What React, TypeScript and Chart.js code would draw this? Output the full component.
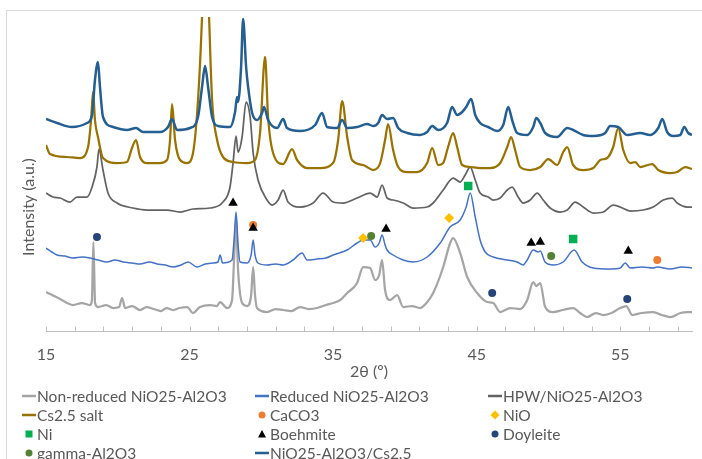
import React, { useEffect, useRef } from "react";
import { Chart, registerables } from "chart.js";

Chart.register(...registerables);

// ---- tick values / labels ----
const xTickValues = [15, 17, 19, 21, 23, 25, 27, 29, 31, 33, 35, 37, 39, 41, 43, 45, 47, 49, 51, 53, 55, 57, 59];
const xLabelValues = [15, 25, 35, 45, 55];
const xTitle = "2θ (º)";
const yTitle = "Intensity (a.u.)";

// ---- series: [2θ, intensity (a.u.)] ----
const nonReduced = [
  [15.0, 39], [15.98, 32], [16.88, 26], [17.5, 28], [18.07, 26], [18.2, 31], [18.3, 89], [18.42, 28],
  [18.62, 24], [19.2, 26], [19.67, 23], [20.09, 24], [20.3, 33], [20.51, 23], [21.0, 25], [21.55, 21],
  [22.0, 24], [22.5, 22], [23.0, 20], [23.4, 23], [23.85, 21], [24.3, 23], [24.83, 24], [25.24, 18],
  [25.73, 24], [26.43, 26], [26.9, 25], [27.13, 29], [27.61, 23], [27.96, 31], [28.1, 71], [28.24, 111],
  [28.38, 61], [28.66, 28], [29.01, 25], [29.29, 36], [29.43, 64], [29.56, 36], [29.7, 23], [30.4, 19],
  [31.0, 22], [31.52, 21], [32.1, 20], [32.7, 24], [33.3, 22], [33.89, 23], [34.5, 26], [35.0, 28],
  [35.5, 31], [35.98, 38], [36.67, 48], [37.09, 64], [37.58, 63], [37.93, 51], [38.21, 56], [38.41, 71],
  [38.62, 41], [38.97, 31], [39.46, 36], [39.88, 24], [40.5, 25], [41.06, 23], [41.5, 28], [41.97, 38],
  [42.67, 64], [43.15, 88], [43.36, 93], [43.85, 78], [44.34, 54], [45.03, 38], [45.73, 29], [46.15, 28],
  [46.64, 19], [47.33, 23], [48.03, 22], [48.52, 31], [48.94, 49], [49.15, 45], [49.43, 48], [49.77, 24],
  [50.33, 19], [51.0, 21], [51.72, 23], [52.2, 18], [52.7, 14], [53.3, 18], [53.82, 16], [54.4, 18],
  [55.0, 23], [55.42, 25], [55.84, 16], [56.5, 18], [57.3, 19], [57.9, 16], [58.49, 14], [59.2, 18], [60.0, 19],
];

const reduced = [
  [15.0, 83], [15.4, 79], [15.77, 76], [16.3, 75], [16.88, 73], [17.5, 74], [18.07, 73], [18.62, 71],
  [19.25, 69], [19.8, 71], [20.37, 69], [21.0, 68], [21.55, 67], [22.2, 69], [22.74, 67], [23.3, 66],
  [23.85, 64], [24.4, 66], [24.9, 69], [25.52, 64], [26.1, 67], [26.64, 68], [26.98, 69], [27.13, 76],
  [27.3, 68], [27.96, 71], [28.1, 91], [28.24, 119], [28.38, 86], [28.52, 69], [29.01, 68], [29.29, 76],
  [29.43, 91], [29.56, 76], [29.77, 68], [30.4, 66], [31.0, 67], [31.52, 66], [32.21, 71], [32.84, 78],
  [33.19, 71], [33.89, 72], [34.5, 73], [35.0, 76], [35.98, 81], [36.67, 88], [37.09, 91], [37.58, 91],
  [37.93, 84], [38.21, 88], [38.41, 96], [38.62, 86], [38.76, 81], [39.18, 76], [39.88, 71], [40.57, 69],
  [41.55, 74], [42.46, 88], [43.15, 104], [43.85, 111], [44.27, 124], [44.55, 138], [44.9, 114], [45.24, 91],
  [45.59, 79], [46.15, 74], [47.13, 71], [47.82, 69], [48.24, 66], [48.52, 71], [48.94, 81], [49.29, 79],
  [49.43, 80], [49.77, 69], [50.33, 66], [51.03, 69], [51.79, 81], [52.35, 69], [53.12, 63], [54.3, 62],
  [55.0, 63], [55.35, 68], [55.7, 63], [56.5, 64], [57.3, 63], [57.58, 64], [58.49, 62], [59.3, 64], [60.0, 63],
];

const hpw = [
  [15.0, 138], [15.49, 134], [15.98, 133], [16.67, 129], [17.16, 134], [17.86, 134], [18.21, 144], [18.55, 164],
  [18.69, 182], [18.97, 161], [19.32, 138], [19.95, 128], [21.06, 123], [22.04, 121], [23.43, 121], [24.34, 119],
  [25.24, 122], [26.43, 123], [27.33, 129], [27.82, 144], [28.03, 168], [28.24, 195], [28.38, 179], [28.66, 194],
  [28.94, 229], [29.22, 214], [29.43, 178], [29.77, 151], [30.4, 131], [30.75, 126], [31.17, 131], [31.52, 141],
  [31.86, 129], [32.7, 124], [33.61, 128], [34.3, 138], [35.0, 129], [35.7, 128], [36.67, 133], [37.58, 138],
  [38.07, 134], [38.41, 146], [38.76, 133], [39.18, 131], [39.88, 128], [40.57, 123], [41.55, 124], [41.97, 128],
  [42.67, 141], [43.36, 153], [43.85, 149], [44.2, 156], [44.55, 164], [44.9, 151], [45.24, 138], [45.8, 134],
  [46.15, 131], [46.64, 133], [47.13, 141], [47.47, 144], [47.89, 134], [48.24, 128], [48.73, 131], [49.22, 138],
  [49.63, 131], [50.12, 123], [50.82, 119], [51.31, 121], [51.86, 129], [52.42, 124], [53.12, 118], [53.82, 119],
  [54.51, 126], [55.0, 124], [55.7, 120], [56.6, 121], [57.3, 124], [58.0, 131], [58.62, 133], [58.97, 128],
  [59.67, 124], [60.0, 124],
];

const cs25Salt = [
  [15.0, 186], [15.28, 177], [16.46, 174], [17.37, 173], [17.93, 184], [18.14, 211], [18.28, 239], [18.41, 211],
  [18.62, 194], [18.97, 173], [19.95, 168], [20.64, 169], [20.99, 183], [21.27, 191], [21.55, 174], [22.04, 168],
  [22.94, 168], [23.43, 171], [23.64, 191], [23.78, 227], [23.99, 191], [24.34, 171], [24.83, 168], [25.24, 178],
  [25.59, 231], [25.87, 314], [26.11, 420], [26.36, 314], [26.57, 231], [26.92, 191], [27.33, 174], [28.03, 169],
  [29.01, 168], [29.56, 171], [29.91, 198], [30.26, 274], [30.47, 214], [30.82, 178], [31.52, 167], [32.14, 182],
  [32.49, 171], [33.19, 163], [34.09, 163], [35.0, 168], [35.35, 191], [35.63, 230], [35.98, 194], [36.32, 171],
  [37.09, 166], [37.79, 161], [38.28, 168], [38.62, 191], [38.83, 207], [39.18, 181], [39.53, 164], [40.16, 159],
  [40.85, 159], [41.55, 168], [41.9, 183], [42.32, 166], [42.67, 168], [43.01, 184], [43.36, 198], [43.64, 184],
  [43.99, 166], [44.55, 164], [45.24, 163], [45.94, 163], [46.64, 168], [47.13, 184], [47.4, 194], [47.68, 181],
  [48.03, 164], [48.73, 161], [49.43, 164], [49.98, 172], [50.61, 166], [51.03, 179], [51.31, 184], [51.72, 166],
  [52.42, 161], [53.12, 163], [53.61, 171], [54.09, 173], [54.51, 184], [54.86, 203], [55.21, 181], [55.7, 168],
  [56.05, 169], [56.39, 164], [57.23, 167], [57.65, 161], [58.49, 158], [58.97, 159], [59.53, 164], [60.0, 162],
];

const niAlCs = [
  [15.0, 212], [15.77, 208], [16.81, 204], [17.86, 208], [18.21, 216], [18.41, 251], [18.62, 269], [18.76, 244],
  [18.97, 214], [19.67, 204], [20.64, 201], [21.27, 203], [21.76, 199], [22.94, 199], [23.5, 204], [23.78, 212],
  [24.13, 201], [25.03, 203], [25.59, 214], [25.87, 244], [26.08, 265], [26.29, 244], [26.57, 214], [26.99, 205],
  [27.82, 204], [28.17, 219], [28.31, 234], [28.38, 229], [28.59, 264], [28.73, 312], [28.94, 264], [29.08, 244],
  [29.36, 218], [29.7, 211], [30.05, 218], [30.19, 224], [30.47, 211], [31.1, 203], [31.52, 212], [31.79, 203],
  [32.7, 200], [33.75, 206], [34.23, 218], [34.58, 204], [35.28, 203], [35.63, 211], [35.98, 203], [36.67, 204],
  [37.37, 207], [37.79, 205], [38.14, 208], [38.41, 216], [38.76, 212], [39.18, 213], [39.53, 203], [40.16, 198],
  [41.06, 196], [41.55, 199], [41.9, 205], [42.32, 201], [42.94, 208], [43.29, 224], [43.64, 216], [43.99, 219],
  [44.27, 224], [44.62, 232], [44.9, 216], [45.24, 208], [45.8, 204], [46.43, 200], [46.85, 206], [47.2, 224],
  [47.47, 211], [47.82, 198], [48.52, 196], [48.94, 204], [49.15, 213], [49.43, 208], [49.77, 198], [50.61, 194],
  [51.31, 203], [51.72, 201], [52.42, 196], [53.12, 195], [53.95, 198], [54.3, 205], [54.86, 204], [55.49, 196],
  [56.39, 198], [57.09, 196], [57.65, 203], [57.93, 212], [58.27, 199], [58.69, 195], [59.18, 196], [59.46, 204],
  [59.74, 198], [60.0, 196],
];

// ---- phase markers: [2θ, marker height] ----
const caco3 = [[29.43, 106], [57.58, 71]];
const nio = [[37.09, 93], [43.08, 113]];
const ni = [[44.41, 145], [51.72, 92]];
const boehmite = [[28.03, 128], [29.43, 103], [38.69, 102], [48.8, 88], [49.43, 89], [55.56, 80]];
const doyleite = [[18.55, 94], [46.08, 38], [55.49, 32]];
const gammaAl2O3 = [[37.65, 95], [50.19, 75]];

const FONT_FAMILY = "Lato, 'Open Sans', sans-serif";
const TEXT_COLOR = "#595959";
const AXIS_COLOR = "#bfbfbf";

const toXY = (arr: number[][]) => arr.map(([x, y]) => ({ x, y }));

function lineSet(label: string, data: number[][], color: string, width: number) {
  return {
    type: "line" as const,
    label,
    data: toXY(data),
    borderColor: color,
    backgroundColor: color,
    borderWidth: width,
    pointRadius: 0,
    cubicInterpolationMode: "monotone" as const,
    showLine: true,
    fill: false,
  };
}

function markerSet(label: string, data: number[][], color: string, style: string, radius: number) {
  return {
    type: "scatter" as const,
    label,
    data: toXY(data),
    borderColor: color,
    backgroundColor: color,
    borderWidth: 0,
    pointStyle: style,
    pointRadius: radius,
    pointHoverRadius: radius,
    showLine: false,
  };
}

const framePlugin = {
  id: "frame",
  beforeDraw(chart: any) {
    const ctx = chart.ctx;
    ctx.save();
    ctx.fillStyle = "#ffffff";
    ctx.fillRect(0, 0, chart.width, chart.height);
    ctx.strokeStyle = "#d9d9d9";
    ctx.lineWidth = 1;
    ctx.strokeRect(6.5, 10.5, 1000, 1000);
    ctx.restore();
  },
};

const axisPlugin = {
  id: "axisLine",
  afterDatasetsDraw(chart: any) {
    const { ctx, chartArea } = chart;
    const xScale = chart.scales.x;
    ctx.save();
    ctx.strokeStyle = AXIS_COLOR;
    ctx.lineWidth = 1;
    const y = Math.round(chartArea.bottom) + 0.5;
    ctx.beginPath();
    ctx.moveTo(chartArea.left, y);
    ctx.lineTo(chartArea.right + 1, y);
    xScale.ticks.forEach((t: any) => {
      const px = Math.round(xScale.getPixelForValue(t.value)) + 0.5;
      ctx.moveTo(px, y);
      ctx.lineTo(px, y - 5);
    });
    ctx.stroke();
    ctx.restore();
  },
};

const titlesPlugin = {
  id: "axisTitles",
  afterDraw(chart: any) {
    const ctx = chart.ctx;
    const area = chart.chartArea;
    ctx.save();
    ctx.fillStyle = TEXT_COLOR;
    ctx.font = `16px ${FONT_FAMILY}`;
    ctx.textAlign = "center";
    ctx.textBaseline = "middle";
    ctx.fillText(xTitle, (area.left + area.right) / 2, 372);
    ctx.translate(29, 207);
    ctx.rotate(-Math.PI / 2);
    ctx.fillText(yTitle, 0, 0);
    ctx.restore();
  },
};

function drawMarker(ctx: CanvasRenderingContext2D, style: string, x: number, y: number, r: number) {
  ctx.beginPath();
  if (style === "circle") {
    ctx.arc(x, y, r, 0, Math.PI * 2);
  } else if (style === "rect") {
    ctx.rect(x - r, y - r, 2 * r, 2 * r);
  } else if (style === "rectRot") {
    ctx.moveTo(x, y - r - 1);
    ctx.lineTo(x + r + 1, y);
    ctx.lineTo(x, y + r + 1);
    ctx.lineTo(x - r - 1, y);
    ctx.closePath();
  } else if (style === "triangle") {
    ctx.moveTo(x, y - r - 0.5);
    ctx.lineTo(x + r + 0.5, y + r);
    ctx.lineTo(x - r - 0.5, y + r);
    ctx.closePath();
  }
  ctx.fill();
}

const legendPlugin = {
  id: "gridLegend",
  afterDraw(chart: any) {
    const ctx = chart.ctx;
    ctx.save();
    ctx.font = `15.5px ${FONT_FAMILY}`;
    ctx.textBaseline = "middle";
    ctx.textAlign = "left";
    chart.data.datasets.forEach((ds: any, i: number) => {
      const col = i % 3;
      const row = Math.floor(i / 3);
      const x0 = 22 + col * 233;
      const y = 396 + row * 19;
      if (ds.type === "line") {
        ctx.strokeStyle = ds.borderColor;
        ctx.lineWidth = 2.5;
        ctx.beginPath();
        ctx.moveTo(x0, y);
        ctx.lineTo(x0 + 14, y);
        ctx.stroke();
      } else {
        ctx.fillStyle = ds.backgroundColor;
        drawMarker(ctx, ds.pointStyle, x0 + 7, y, 3.5);
      }
      ctx.fillStyle = TEXT_COLOR;
      ctx.fillText(ds.label, x0 + 15, y + 1);
    });
    ctx.restore();
  },
};

export default function App() {
  const canvasRef = useRef<HTMLCanvasElement | null>(null);

  useEffect(() => {
    if (!canvasRef.current) return;
    const datasets: any[] = [
      lineSet("Non-reduced NiO25-Al2O3", nonReduced, "#a5a5a5", 2.25),
      lineSet("Reduced NiO25-Al2O3", reduced, "#4472c4", 1.5),
      lineSet("HPW/NiO25-Al2O3", hpw, "#636363", 1.75),
      lineSet("Cs2.5 salt", cs25Salt, "#997300", 2.25),
      markerSet("CaCO3", caco3, "#ed7d31", "circle", 4),
      markerSet("NiO", nio, "#ffc000", "rectRot", 5),
      markerSet("Ni", ni, "#00b050", "rect", 6),
      markerSet("Boehmite", boehmite, "#000000", "triangle", 5.5),
      markerSet("Doyleite", doyleite, "#264478", "circle", 4),
      markerSet("gamma-Al2O3", gammaAl2O3, "#548235", "circle", 4),
      lineSet("NiO25-Al2O3/Cs2.5", niAlCs, "#255e91", 2.5),
    ];
    const n = datasets.length;
    datasets.forEach((d, i) => (d.order = n - i));

    const chart = new Chart(canvasRef.current, {
      type: "scatter",
      data: { datasets },
      options: {
        responsive: false,
        animation: false,
        devicePixelRatio: 1,
        events: [],
        layout: { padding: { left: 46, right: 10, top: 17, bottom: 0 } },
        plugins: {
          legend: { display: false },
          tooltip: { enabled: false },
          title: { display: false },
        },
        scales: {
          x: {
            type: "linear",
            min: 15,
            max: 60,
            afterBuildTicks: (scale: any) => {
              scale.ticks = xTickValues.map((v) => ({ value: v }));
            },
            afterFit: (scale: any) => {
              scale.height = 128;
            },
            ticks: {
              autoSkip: false,
              maxRotation: 0,
              padding: 14,
              color: TEXT_COLOR,
              font: { family: FONT_FAMILY, size: 16 },
              callback: (value: any) => (xLabelValues.includes(Number(value)) ? String(value) : ""),
            },
            grid: { display: false, drawTicks: false },
            border: { display: false },
          },
          y: {
            type: "linear",
            display: false,
            min: 0,
            max: 314,
          },
        },
      } as any,
      plugins: [framePlugin, axisPlugin, titlesPlugin, legendPlugin],
    });
    return () => chart.destroy();
  }, []);

  return (
    <div style={{ position: "fixed", left: 0, top: 0, width: 702, height: 459, overflow: "hidden", background: "#fff" }}>
      <canvas ref={canvasRef} width={702} height={459} style={{ display: "block", width: 702, height: 459 }} />
    </div>
  );
}
